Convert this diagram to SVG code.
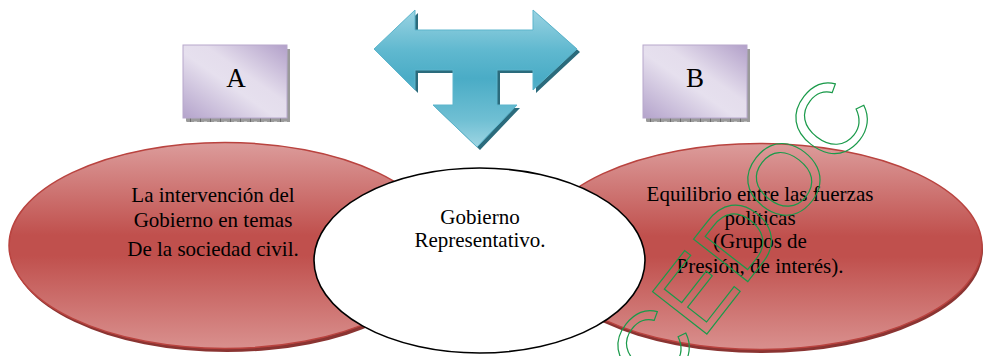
<svg xmlns="http://www.w3.org/2000/svg" width="984" height="356" viewBox="0 0 984 356">
<defs>
<linearGradient id="redG" x1="0" y1="0" x2="0" y2="1">
<stop offset="0" stop-color="#dc9c9b"/>
<stop offset="0.45" stop-color="#c0504d"/>
<stop offset="0.55" stop-color="#c0504d"/>
<stop offset="1" stop-color="#d9908e"/>
</linearGradient>
<linearGradient id="boxG" x1="0" y1="1" x2="1" y2="0">
<stop offset="0" stop-color="#b4a3cb"/>
<stop offset="0.45" stop-color="#e6e0ee"/>
<stop offset="0.6" stop-color="#e4ddec"/>
<stop offset="1" stop-color="#b2a0c9"/>
</linearGradient>
<linearGradient id="arrowG" gradientUnits="userSpaceOnUse" x1="0" y1="10" x2="0" y2="147">
<stop offset="0" stop-color="#9ad3e2"/>
<stop offset="0.3" stop-color="#5fb8cf"/>
<stop offset="0.5" stop-color="#4aacc6"/>
<stop offset="0.8" stop-color="#6fbfd3"/>
<stop offset="1" stop-color="#9ed5e3"/>
</linearGradient>
<pattern id="hatch" width="10" height="4" patternUnits="userSpaceOnUse">
<rect width="10" height="4" fill="#9a9a9a"/>
<rect x="0" y="0" width="1" height="4" fill="#6e6e6e"/>
<rect x="4" y="1" width="3" height="1" fill="#bdbdbd"/>
</pattern>
<style>
.lbl{font-family:"Liberation Serif","Times New Roman",serif;font-size:21px;fill:#000;text-anchor:middle}
.big{font-family:"Liberation Serif","Times New Roman",serif;font-size:27px;fill:#000;text-anchor:middle}
.red{fill:url(#redG);stroke:#b9433f;stroke-width:1.5}
.redsh{fill:#8a3432}
.box{fill:url(#boxG);stroke:#b7a8cc;stroke-width:1}
.boxsh{fill:url(#hatch)}
</style>
</defs>

<g id="node-left">
<ellipse class="redsh" cx="227" cy="249" rx="216" ry="103"/>
<ellipse class="red" cx="225" cy="245.5" rx="216" ry="103"/>
<text class="lbl" x="213" y="202">La intervención del</text>
<text class="lbl" x="213" y="227">Gobierno en temas</text>
<text class="lbl" x="213" y="256">De la sociedad civil.</text>
</g>

<g id="node-right">
<ellipse class="redsh" cx="761" cy="250" rx="222" ry="103"/>
<ellipse class="red" cx="760" cy="246.5" rx="222" ry="103"/>
<text class="lbl" x="760" y="201">Equilibrio entre las fuerzas</text>
<text class="lbl" x="760" y="225">políticas</text>
<text class="lbl" x="760" y="248">(Grupos de</text>
<text class="lbl" x="760" y="273">Presión, de interés).</text>
</g>

<g id="node-center">
<ellipse cx="479.5" cy="260.5" rx="165.5" ry="92.5" fill="#ffffff" stroke="#000" stroke-width="1.6"/>
<text class="lbl" x="480" y="224">Gobierno</text>
<text class="lbl" x="480" y="247">Representativo.</text>
</g>

<g id="node-A">
<rect class="boxsh" x="186" y="49" width="104" height="73"/>
<rect class="box" x="183" y="45" width="104" height="73"/>
<text class="big" x="236" y="87">A</text>
</g>

<g id="node-B">
<rect class="boxsh" x="646" y="49" width="104" height="73"/>
<rect class="box" x="643" y="45" width="104" height="73"/>
<text class="big" x="695" y="87">B</text>
</g>

<g id="connectors">
<polygon transform="translate(3,3)" fill="#2b6b7c" points="374,49 415,10 415,30 533,30 533,10 577,49 533,90 533,70 497,70 497,105 517,105 477,147 433,105 453,105 453,70 415,70 415,90"/>
<polygon fill="url(#arrowG)" stroke="#5cb5cc" stroke-width="1" points="374,49 415,10 415,30 533,30 533,10 577,49 533,90 533,70 497,70 497,105 517,105 477,147 433,105 453,105 453,70 415,70 415,90"/>
</g>

<g id="watermark">
<text transform="translate(737,237) rotate(-52)" x="5" y="36" font-family="Liberation Sans, Arial, sans-serif" font-size="100" text-anchor="middle" fill="none" stroke="#1a9a4a" stroke-width="1.2">CEDOC</text>
</g>
</svg>
